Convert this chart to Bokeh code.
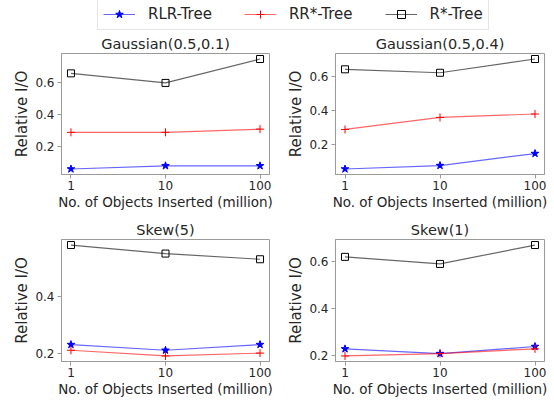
import math
from bokeh.plotting import figure
from bokeh.layouts import column, row
from bokeh.models import (Range1d, FixedTicker, CustomJSTickFormatter, Legend,
                          LegendItem)
from bokeh.embed import file_html
from bokeh.resources import INLINE

# ---------------- data ----------------
x_vals = [1, 10, 100]
x_ticks = [1, 10, 100]
y_ticks = [0.2, 0.4, 0.6]
titles = ["Gaussian(0.5,0.1)", "Gaussian(0.5,0.4)", "Skew(5)", "Skew(1)"]
series_names = ["RLR-Tree", "RR*-Tree", "R*-Tree"]
rlr = [[0.06, 0.08, 0.08], [0.06, 0.08, 0.15], [0.23, 0.21, 0.23], [0.23, 0.21, 0.24]]
rrs = [[0.29, 0.29, 0.31], [0.29, 0.36, 0.38], [0.21, 0.19, 0.20], [0.20, 0.21, 0.23]]
rstar = [[0.66, 0.60, 0.75], [0.64, 0.62, 0.70], [0.58, 0.55, 0.53], [0.62, 0.59, 0.67]]
xlabel = "No. of Objects Inserted (million)"
ylabel = "Relative I/O"

FONT = "DejaVu Sans"
FRAME = "#9a9a9a"
TXT = "#262626"

styles = [
    dict(color="blue", marker="star", size=8),
    dict(color="red", marker="cross", size=8),
    dict(color="black", marker="square", size=7),
]


def add_series(p, xs, ys, st, shrink=0):
    ln = p.line(xs, ys, line_color=st["color"], line_alpha=0.6, line_width=1.2)
    sz = st["size"] - shrink
    if st["marker"] == "square":
        sc = p.scatter(xs, ys, marker="square", size=sz, line_color=st["color"],
                       fill_color=None, line_width=1)
    elif st["marker"] == "cross":
        sc = p.scatter(xs, ys, marker="cross", size=sz, line_color=st["color"],
                       line_width=1)
    else:
        sc = p.scatter(xs, ys, marker="star", size=sz, line_color=st["color"],
                       fill_color=st["color"], line_width=1)
    return ln, sc


def make_panel(i, width, height, bl, br, bt, bb):
    allv = rlr[i] + rrs[i] + rstar[i]
    lo, hi = min(allv), max(allv)
    pad = 0.05 * (hi - lo)
    lx0, lx1 = math.log10(min(x_vals)), math.log10(max(x_vals))
    xpad = 0.05 * (lx1 - lx0)
    p = figure(width=width, height=height, x_axis_type="log",
               x_range=Range1d(10 ** (lx0 - xpad), 10 ** (lx1 + xpad)),
               y_range=Range1d(lo - pad, hi + pad),
               output_backend="svg", toolbar_location=None,
               min_border_left=bl, min_border_right=br,
               min_border_top=bt, min_border_bottom=bb, title=titles[i])
    p.title.align = "center"
    p.title.text_font = FONT
    p.title.text_font_size = "14.5px"
    p.title.text_font_style = "normal"
    p.title.text_color = TXT
    p.title.standoff = 4
    p.xgrid.visible = False
    p.ygrid.visible = False
    p.outline_line_color = FRAME
    p.outline_line_width = 1
    p.background_fill_color = "white"
    p.border_fill_color = "white"

    xa = p.xaxis[0]
    xa.ticker = FixedTicker(ticks=x_ticks, minor_ticks=[])
    xa.formatter = CustomJSTickFormatter(code="return String(Math.round(tick));")
    ya = p.yaxis[0]
    ya.ticker = FixedTicker(ticks=y_ticks, minor_ticks=[])
    ya.formatter = CustomJSTickFormatter(code="return tick.toFixed(1);")
    for ax in (xa, ya):
        ax.axis_line_color = FRAME
        ax.major_tick_line_color = FRAME
        ax.major_tick_out = 4
        ax.major_tick_in = 0
        ax.minor_tick_line_color = None
        ax.major_label_text_font = FONT
        ax.major_label_text_font_size = "12px"
        ax.major_label_text_color = TXT
        ax.axis_label_text_font = FONT
        ax.axis_label_text_font_style = "normal"
        ax.axis_label_text_color = TXT
    xa.axis_label = xlabel
    xa.axis_label_text_font_size = "13.5px"
    xa.major_label_standoff = 2
    xa.axis_label_standoff = 1
    ya.axis_label = ylabel
    ya.axis_label_text_font_size = "15px"
    ya.major_label_standoff = 3
    ya.axis_label_standoff = 1

    add_series(p, x_vals, rlr[i], styles[0])
    add_series(p, x_vals, rrs[i], styles[1])
    add_series(p, x_vals, rstar[i], styles[2])
    return p


p1 = make_panel(0, 277, 185, 61, 8, 23, 41)
p2 = make_panel(1, 277, 185, 58, 10, 23, 41)
p3 = make_panel(2, 277, 187, 61, 8, 24, 41)
p4 = make_panel(3, 277, 187, 58, 10, 24, 41)

# ---------------- legend strip ----------------
lf = figure(width=554, height=30, output_backend="svg", toolbar_location=None,
            x_range=Range1d(0, 1), y_range=Range1d(0, 1),
            x_axis_location=None, y_axis_location=None,
            min_border_left=0, min_border_right=0, min_border_top=0, min_border_bottom=0)
lf.outline_line_color = None
lf.xgrid.visible = False
lf.ygrid.visible = False
items = []
hidden_x = [-10, -9]
hidden_y = [-10, -10]
for name, st in zip(series_names, styles):
    ln, sc = add_series(lf, hidden_x, hidden_y, st, shrink=1)
    items.append(LegendItem(label=name, renderers=[ln, sc]))
leg = Legend(items=items, orientation="horizontal", location=(97, 0),
             glyph_width=32, glyph_height=20, label_standoff=13, spacing=32,
             padding=5, margin=0, border_line_color="#cccccc", border_line_width=1,
             label_text_font=FONT, label_text_font_size="15px", label_text_color=TXT,
             background_fill_color="white", background_fill_alpha=1)
lf.add_layout(leg)

layout = column(lf, row(p1, p2), row(p3, p4))
open("out.html", "w").write(file_html(layout, INLINE))
